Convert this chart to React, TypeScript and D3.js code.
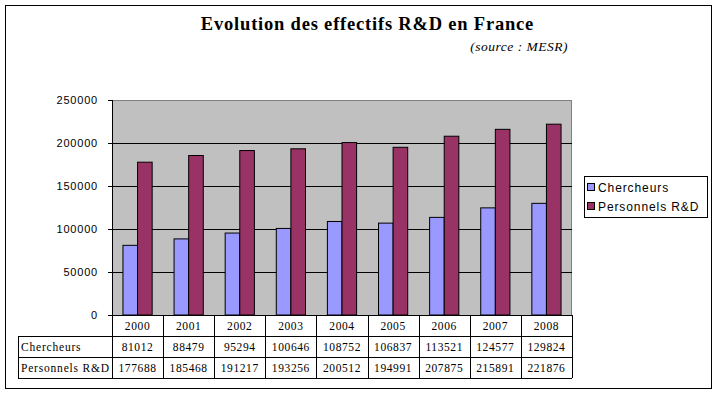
import React from 'react';
import * as d3 from 'd3';

const years = ['2000','2001','2002','2003','2004','2005','2006','2007','2008'];
const chercheurs = [81012, 88479, 95294, 100646, 108752, 106837, 113521, 124577, 129824];
const personnels = [177688, 185468, 191217, 193256, 200512, 194991, 207875, 215891, 221876];
const seriesNames = ['Chercheurs', 'Personnels R&D'];
const seriesColors = ['#9999FF', '#993366'];
const yTicks = [0, 50000, 100000, 150000, 200000, 250000];

export default function App() {
  const W = 718, H = 394;
  const left = 112, right = 572, top = 100, bottom = 315;
  const x = d3.scaleBand<string>().domain(years).range([left, right]).paddingInner(0).paddingOuter(0);
  const y = d3.scaleLinear().domain([0, 250000]).range([bottom, top]);
  const bw = x.bandwidth();
  const barW = bw / 3.5;
  const rowH = 21;
  const tableLeft = 18;
  const series = [chercheurs, personnels];

  return (
    <svg width={W} height={H} style={{ position: 'absolute', left: 0, top: 0 }} xmlns="http://www.w3.org/2000/svg">
      <rect x={0} y={0} width={W} height={H} fill="#fff" />
      <rect x={5.5} y={5.5} width={706} height={383} fill="none" stroke="#000" strokeWidth={1} />
      <text x={367.5} y={30} textAnchor="middle" fontFamily="Liberation Serif" fontWeight="bold" fontSize={18.5} letterSpacing={0.8}>Evolution des effectifs R&amp;D en France</text>
      <text x={568} y={51} textAnchor="end" fontFamily="Liberation Serif" fontStyle="italic" fontSize={13.5} letterSpacing={0.5}>(source : MESR)</text>

      <rect x={left} y={top} width={right - left} height={bottom - top} fill="#C0C0C0" />
      <line x1={left} x2={right} y1={top + 0.5} y2={top + 0.5} stroke="#808080" />
      <line x1={right - 0.5} x2={right - 0.5} y1={top} y2={bottom} stroke="#808080" />
      {yTicks.slice(1, -1).map(t => (
        <line key={t} x1={left} x2={right} y1={Math.round(y(t)) + 0.5} y2={Math.round(y(t)) + 0.5} stroke="#000" />
      ))}
      {years.map((yr, i) => series.map((s, k) => {
        const bx = (x(yr) as number) + (bw - 2 * barW) / 2 + k * barW;
        return (
          <rect key={yr + k} x={bx} y={y(s[i])} width={barW} height={bottom - y(s[i])}
            fill={seriesColors[k]} stroke="#000" strokeWidth={1} />
        );
      }))}
      <line x1={left + 0.5} x2={left + 0.5} y1={top} y2={bottom} stroke="#000" />
      {yTicks.map(t => (
        <g key={t}>
          <line x1={left - 4} x2={left} y1={Math.round(y(t)) + 0.5} y2={Math.round(y(t)) + 0.5} stroke="#000" />
          <text x={98} y={y(t) + 4} textAnchor="end" fontFamily="Liberation Sans" fontSize={11} letterSpacing={0.8}>{t}</text>
        </g>
      ))}

      {/* data table */}
      <g fontFamily="Liberation Serif" fontSize={11.5}>
        {[0, 1, 2, 3].map(r => (
          <line key={r} x1={r === 0 ? left : tableLeft} x2={right} y1={bottom + r * rowH + 0.5} y2={bottom + r * rowH + 0.5} stroke="#000" />
        ))}
        <line x1={tableLeft + 0.5} x2={tableLeft + 0.5} y1={bottom + rowH} y2={bottom + 3 * rowH} stroke="#000" />
        {years.concat(['end']).map((yr, i) => {
          const xx = Math.round(left + i * bw) + 0.5;
          return <line key={'v' + i} x1={xx} x2={xx} y1={bottom} y2={bottom + 3 * rowH} stroke="#000" />;
        })}
        {years.map(yr => (
          <text key={'h' + yr} x={(x(yr) as number) + bw / 2} y={bottom + 15} textAnchor="middle" letterSpacing={0.6}>{yr}</text>
        ))}
        {series.map((s, k) => (
          <g key={'r' + k}>
            <text x={tableLeft + 3} y={bottom + (k + 1) * rowH + 15} letterSpacing={0.8}>{seriesNames[k]}</text>
            {years.map((yr, i) => (
              <text key={yr} x={(x(yr) as number) + bw / 2} y={bottom + (k + 1) * rowH + 15} textAnchor="middle" letterSpacing={0.6}>{s[i]}</text>
            ))}
          </g>
        ))}
      </g>

      {/* legend */}
      <rect x={584.5} y={176.5} width={123} height={41} fill="#fff" stroke="#000" />
      {seriesNames.map((n, k) => (
        <g key={n}>
          <rect x={587.5} y={183.5 + k * 19} width={7} height={7} fill={seriesColors[k]} stroke="#000" />
          <text x={598} y={192 + k * 19} fontFamily="Liberation Sans" fontSize={12} letterSpacing={0.9}>{n}</text>
        </g>
      ))}
    </svg>
  );
}
